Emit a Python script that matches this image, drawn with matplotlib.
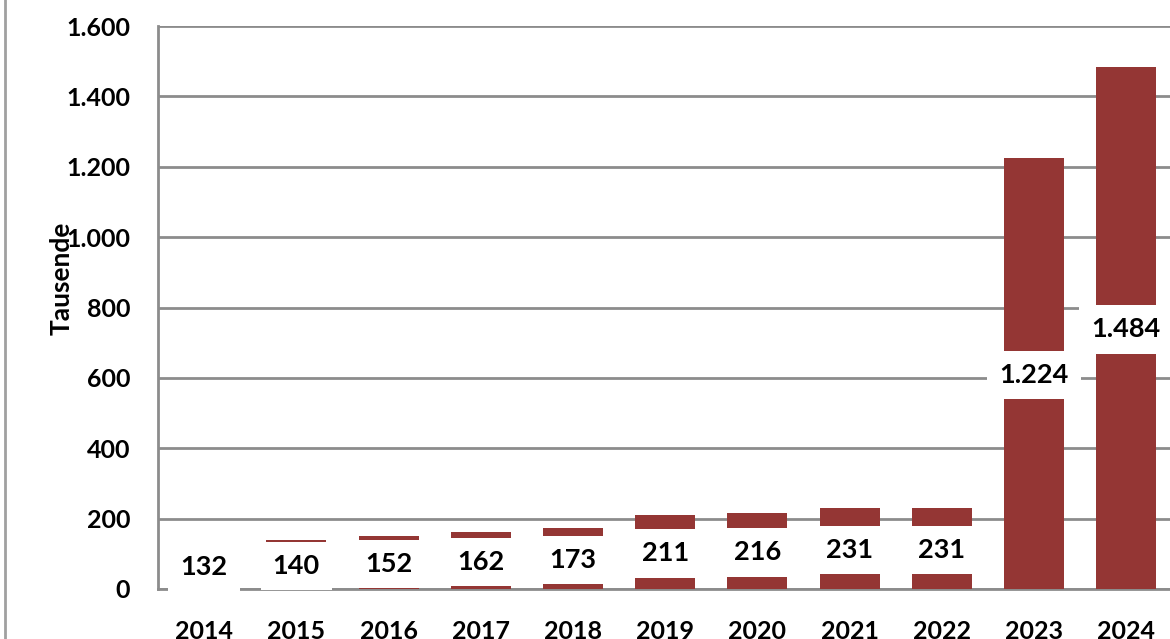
import numpy as np
import matplotlib as mpl
import matplotlib.pyplot as plt
from matplotlib.lines import Line2D
from matplotlib.transforms import offset_copy

years = ["2014", "2015", "2016", "2017", "2018", "2019", "2020", "2021", "2022", "2023", "2024"]
values = [132, 140, 152, 162, 173, 211, 216, 231, 231, 1224, 1484]
y_ticks = [0, 200, 400, 600, 800, 1000, 1200, 1400, 1600]

def de_fmt(v):
    # German thousands separator
    return f"{int(v):,}".replace(",", ".")

plt.rcParams['font.family'] = ['Lato', 'DejaVu Sans']
plt.rcParams['font.weight'] = 'bold'

bar_col = "#943634"
grid_col = "#8c8c8c"

fig = plt.figure(figsize=(11.7, 6.39), dpi=100)
ax = fig.add_axes([158/1170, 1 - 589/639, 1 - 158/1170 + 0.002, (589 - 26)/639])

x = np.arange(len(years))
ax.bar(x, values, width=0.65, color=bar_col, zorder=2)

# labels sit in the middle of each bar, slightly nudged down
lab_tr = offset_copy(ax.transData, fig=fig, x=0, y=-1.5, units="dots")
for i, v in enumerate(values):
    ax.text(i, v/2, de_fmt(v), ha="center", va="center", fontsize=19.5, fontweight="bold",
            color="black", zorder=4, clip_on=False, transform=lab_tr,
            bbox=dict(facecolor="white", edgecolor="none", pad=8.7))

ax.set_xlim(-0.5, len(years) - 0.5)
ax.set_ylim(0, 1600)
ax.set_yticks(y_ticks)
ax.set_yticklabels([de_fmt(t) for t in y_ticks])
ax.set_xticks(x)
ax.set_xticklabels(years)
ax.tick_params(axis="both", length=0, labelsize=18)
ax.tick_params(axis="y", pad=20)
ax.tick_params(axis="x", pad=22)
for lab in ax.get_xticklabels() + ax.get_yticklabels():
    lab.set_fontweight("bold")

ax.yaxis.grid(True, color=grid_col, linewidth=2, zorder=0)
ax.set_axisbelow(True)
for s in ["top", "right"]:
    ax.spines[s].set_visible(False)
for s in ["left", "bottom"]:
    ax.spines[s].set_color(grid_col)
    ax.spines[s].set_linewidth(2)
    ax.spines[s].set_zorder(1)

fig.text(62/1170, 1 - 278/639, "Tausende", rotation=90, ha="center", va="center",
         fontsize=19, fontweight="bold")

# left border of the original frame
fig.add_artist(Line2D([5/1170, 5/1170], [0, 1], color="#a0a0a0", linewidth=2,
                      transform=fig.transFigure))

fig.savefig("out.png", dpi=100)
